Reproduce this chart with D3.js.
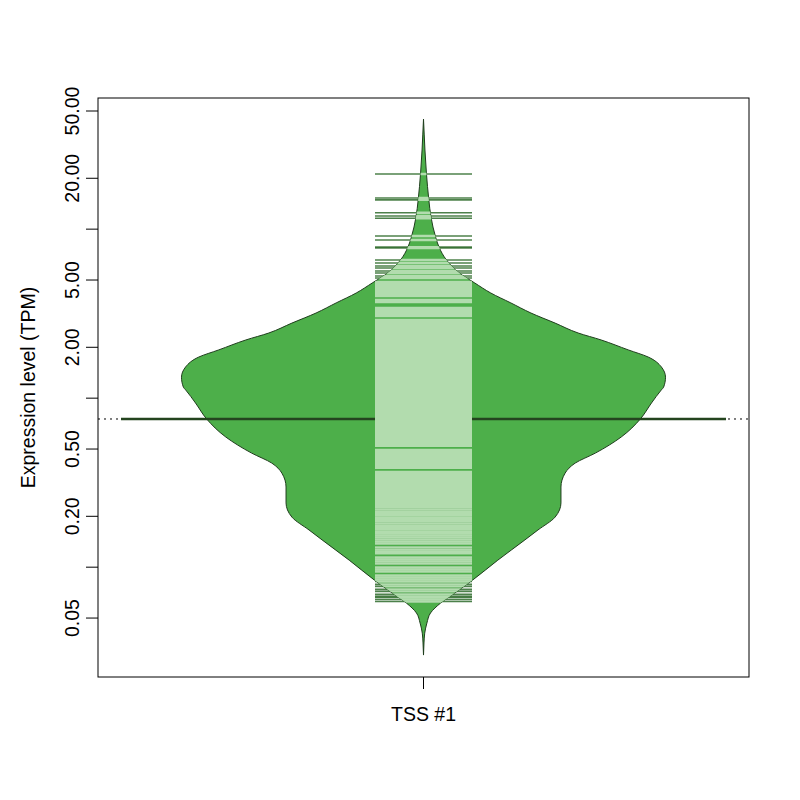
<!DOCTYPE html>
<html>
<head>
<meta charset="utf-8">
<script src="https://cdn.jsdelivr.net/npm/d3@7"></script>
<style>
  body { margin: 0; background: #fff; }
  text { font-family: Arial, "Liberation Sans", sans-serif; }
</style>
</head>
<body>
<script>
// group and axis labels
var groups = ["TSS #1"];
var yTitle = "Expression level (TPM)";
var yTicks = [50, 20, 10, 5, 2, 1, 0.5, 0.2, 0.1, 0.05];
var yTickLabels = ["50.00", "20.00", "", "5.00", "2.00", "", "0.50", "0.20", "", "0.05"];

// bean outline: expression level (TPM) and relative density (max = 1)
var densLevels = [44.8, 36.1, 29.4, 21.5, 14.9, 11.8, 8.98, 7.84, 6.57, 5.50, 4.80, 4.19, 3.66, 3.19,
  2.78, 2.43, 2.21, 1.93, 1.75, 1.53, 1.33, 1.16, 1.12, 0.936, 0.753, 0.589, 0.473, 0.413, 0.360,
  0.298, 0.240, 0.198, 0.166, 0.145, 0.110, 0.0839, 0.0703, 0.0614, 0.0536, 0.0467, 0.0407, 0.0356, 0.0302];
var densValues = [0, 0.003, 0.006, 0.012, 0.022, 0.031, 0.050, 0.064, 0.095, 0.148, 0.212, 0.278, 0.361, 0.444,
  0.544, 0.639, 0.734, 0.846, 0.929, 0.983, 1.0, 0.992, 0.983, 0.942, 0.896, 0.817, 0.710, 0.627, 0.585,
  0.568, 0.568, 0.544, 0.473, 0.419, 0.307, 0.203, 0.129, 0.071, 0.029, 0.014, 0.005, 0.002, 0];

// individual observations (bean lines), TPM
var obs = [21.2, 15.3, 14.9, 12.5, 11.96, 11.6, 9.11, 8.62, 7.83, 7.73, 6.57, 6.30, 6.05, 5.89, 5.65,
  5.50, 5.28, 5.14, 4.865, 4.734, 4.607, 4.483, 4.363, 4.246, 4.132, 4.021, 3.808, 3.706, 3.415,
  3.323, 3.234, 3.147, 3.063, 2.901, 2.823, 2.747, 2.673, 2.601, 2.531, 2.463, 2.397, 2.333, 2.270,
  2.209, 2.150, 2.092, 2.036, 1.981, 1.928, 1.876, 1.826, 1.777, 1.729, 1.683, 1.638, 1.594, 1.551,
  1.509, 1.469, 1.429, 1.391, 1.354, 1.317, 1.282, 1.248, 1.214, 1.182, 1.150, 1.119, 1.089, 1.060,
  1.031, 1.004, 0.977, 0.950, 0.925, 0.900, 0.876, 0.852, 0.829, 0.807, 0.785, 0.764, 0.744, 0.724,
  0.704, 0.685, 0.667, 0.649, 0.632, 0.615, 0.598, 0.582, 0.566, 0.551, 0.536, 0.522, 0.494, 0.481,
  0.468, 0.455, 0.443, 0.431, 0.420, 0.408, 0.397, 0.387, 0.366, 0.356, 0.347, 0.337, 0.328, 0.320,
  0.311, 0.303, 0.295, 0.287, 0.279, 0.272, 0.264, 0.257, 0.250, 0.244, 0.237, 0.231, 0.225, 0.219,
  0.213, 0.207, 0.202, 0.196, 0.191, 0.186, 0.181, 0.176, 0.171, 0.167, 0.162, 0.158, 0.154, 0.150,
  0.146, 0.142, 0.138, 0.131, 0.127, 0.124, 0.121, 0.114, 0.111, 0.108, 0.105, 0.0996, 0.0969,
  0.0943, 0.0893, 0.0869, 0.0846, 0.0823, 0.0791, 0.0770, 0.0739, 0.0719, 0.0690, 0.0672, 0.0662,
  0.0644, 0.0627];

// geometric mean (bean average line)
var avgValue = 0.753;

var width = 800, height = 800,
    plotLeft = 98, plotRight = 749, plotTop = 98, plotBottom = 677;

var svg = d3.select("body").append("svg")
    .attr("width", width)
    .attr("height", height);

var y = d3.scaleLog()
    .domain([0.0224, 59.7])
    .range([plotBottom, plotTop]);

var x = d3.scalePoint()
    .domain(groups)
    .range([plotLeft, plotRight])
    .padding(0.5);

var w = d3.scaleLinear()
    .domain([0, 1])
    .range([0, 242]);

var cx = x(groups[0]);
var lineHalf = 48.5,
    avgHalf = 302.5;

var dens = densLevels.map(function(v, i) { return {v: v, d: densValues[i]}; });

var bean = d3.area()
    .curve(d3.curveMonotoneY)
    .y(function(d) { return y(d.v); })
    .x0(function(d) { return cx - w(d.d); })
    .x1(function(d) { return cx + w(d.d); });

svg.append("clipPath")
    .attr("id", "beanclip")
  .append("path")
    .attr("d", bean(dens));

// overall line
svg.append("line")
    .attr("x1", plotLeft).attr("x2", plotRight)
    .attr("y1", y(avgValue)).attr("y2", y(avgValue))
    .attr("stroke", "#000")
    .attr("stroke-width", 1)
    .attr("stroke-dasharray", "2,4");

// bean
svg.append("path")
    .attr("d", bean(dens))
    .attr("fill", "#4daf4a")
    .attr("stroke", "#1e3d1c")
    .attr("stroke-width", 1);

// average line
svg.append("line")
    .attr("x1", cx - avgHalf).attr("x2", cx + avgHalf)
    .attr("y1", y(avgValue)).attr("y2", y(avgValue))
    .attr("stroke", "#24441f")
    .attr("stroke-width", 2.5);

// bean lines: dark outside the bean, light inside
svg.append("g").selectAll("line")
    .data(obs)
  .enter().append("line")
    .attr("x1", cx - lineHalf).attr("x2", cx + lineHalf)
    .attr("y1", function(d) { return y(d); })
    .attr("y2", function(d) { return y(d); })
    .attr("stroke", "#2e6b2c")
    .attr("stroke-opacity", 0.85)
    .attr("stroke-width", 1.6);

svg.append("g")
    .attr("clip-path", "url(#beanclip)")
  .selectAll("line")
    .data(obs)
  .enter().append("line")
    .attr("x1", cx - lineHalf).attr("x2", cx + lineHalf)
    .attr("y1", function(d) { return y(d); })
    .attr("y2", function(d) { return y(d); })
    .attr("stroke", "#b2dcae")
    .attr("stroke-width", 2.4);

// box
svg.append("rect")
    .attr("x", plotLeft).attr("y", plotTop)
    .attr("width", plotRight - plotLeft).attr("height", plotBottom - plotTop)
    .attr("fill", "none")
    .attr("stroke", "#000")
    .attr("stroke-width", 1);

// y axis
var yAxis = svg.append("g");
yAxis.selectAll("line")
    .data(yTicks)
  .enter().append("line")
    .attr("x1", plotLeft - 12).attr("x2", plotLeft)
    .attr("y1", function(d) { return y(d); })
    .attr("y2", function(d) { return y(d); })
    .attr("stroke", "#000");

yAxis.selectAll("text")
    .data(yTicks)
  .enter().append("text")
    .attr("transform", function(d) { return "translate(79," + y(d) + ") rotate(-90)"; })
    .attr("text-anchor", "middle")
    .attr("font-size", "19.5px")
    .text(function(d, i) { return yTickLabels[i]; });

svg.append("text")
    .attr("transform", "translate(35," + (plotTop + plotBottom) / 2 + ") rotate(-90)")
    .attr("text-anchor", "middle")
    .attr("font-size", "19.5px")
    .text(yTitle);

// x axis
svg.append("line")
    .attr("x1", cx).attr("x2", cx)
    .attr("y1", plotBottom).attr("y2", plotBottom + 12)
    .attr("stroke", "#000");

svg.append("text")
    .attr("x", cx).attr("y", 721)
    .attr("text-anchor", "middle")
    .attr("font-size", "19.5px")
    .text(groups[0]);
</script>
</body>
</html>
